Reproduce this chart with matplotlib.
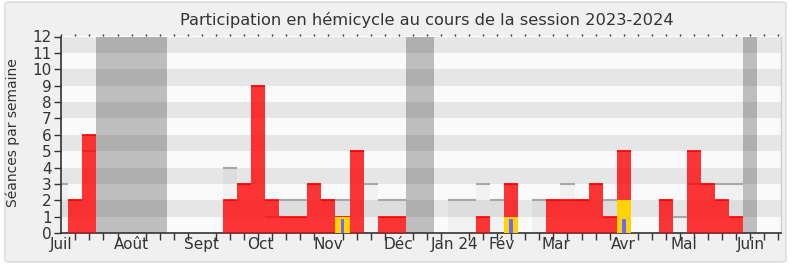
import matplotlib
matplotlib.use('Agg')
import matplotlib.pyplot as plt
from matplotlib.patches import FancyBboxPatch
import numpy as np

plt.rcParams['font.family'] = ['DejaVu Sans']

# ---- data (one value per week, week 0 = first week of July 2023) ----
weeks = np.arange(52)
presences = [0, 2, 6, 0, 0, 0, 0, 0, 0, 0, 0, 0, 2, 3, 9, 2, 1, 1, 3, 2,
             1, 5, 0, 1, 1, 0, 0, 0, 0, 0, 1, 0, 3, 0, 0, 2, 2, 2, 3, 1,
             5, 0, 0, 2, 0, 5, 3, 2, 1, 0, 0, 0]
seances = [3, 2, 5, 0, 0, 0, 0, 0, 0, 0, 0, 0, 4, 3, 9, 1, 2, 2, 3, 2,
           2, 5, 3, 2, 2, 0, 0, 0, 2, 2, 3, 2, 3, 0, 2, 2, 3, 2, 3, 2,
           5, 0, 0, 2, 1, 3, 3, 3, 3, 0, 0, 0]
interventions = [0] * 52
interventions[20] = 1
interventions[32] = 1
interventions[40] = 2
questions = [0] * 52
questions[20] = 0.85
questions[32] = 0.85
questions[40] = 0.85
vacances = [(3, 7), (25, 26), (49, 49)]
mois = ['Juil', 'Août', 'Sept', 'Oct', 'Nov', 'Déc', 'Jan 24', 'Fév',
        'Mar', 'Avr', 'Mai', 'Juin']
mois_pos = [0, 5, 10, 14.15, 19, 24, 28, 31.3, 35.2, 40, 44.3, 49.05]

W, H = 790, 267
fig = plt.figure(figsize=(W / 100, H / 100), dpi=100)
fig.patch.set_facecolor('white')
box = FancyBboxPatch((5 / W, 5 / H), (786 - 5) / W, (265 - 5) / H,
                     boxstyle='round,pad=0,rounding_size=0.008',
                     transform=fig.transFigure, facecolor='#f0f0f0',
                     edgecolor='#dedede', linewidth=1.2, zorder=-10)
fig.patches.append(box)

ax = fig.add_axes([61.3 / W, 34 / H, (780.5 - 61.3) / W, (233 - 36.5) / H])
ax.set_zorder(1)
ax.set_facecolor('#fafafa')
ax.set_xlim(0, 51.15)
ax.set_ylim(0, 12)

for k in range(12):
    ax.axhspan(k, k + 1, color='#e6e6e6' if k % 2 == 1 else '#fafafa',
               lw=0, zorder=0.5)
for s, e in vacances:
    ax.axvspan(s - 0.5, e + 0.5, color='black', alpha=0.24, lw=0, zorder=1.5)

seances_a = np.array(seances, dtype=float)
pres_a = np.array(presences, dtype=float)
ax.bar(weeks, seances_a, width=1, color='black', alpha=0.035, lw=0, zorder=2)
m = seances_a > 0
ax.hlines(seances_a[m], weeks[m] - 0.5, weeks[m] + 0.5, color='#a8a8a8',
          lw=1.5, zorder=2.1)
ax.bar(weeks, pres_a, width=1, color=(1, 0.0, 0.0, 0.78), lw=0, zorder=3)
m = pres_a > 0
ax.hlines(pres_a[m], weeks[m] - 0.5, weeks[m] + 0.5, color='#ff0000',
          lw=1.2, zorder=3.1)
ax.bar(weeks, interventions, width=1, color='#ffd200', lw=0, zorder=4)
ax.bar(weeks, questions, width=0.28, color='#6a6aff', lw=0, zorder=5)

for sp in ['left', 'bottom']:
    ax.spines[sp].set_color('#333333')
    ax.spines[sp].set_linewidth(1.2)
ax.spines['top'].set_visible(False)
ax.spines['right'].set_color('#cfcfcf')
ax.spines['right'].set_linewidth(1)

ax.set_yticks(range(13))
ax.set_yticklabels([str(i) for i in range(13)])
ax.tick_params(axis='y', length=5, width=1, color='#333333', labelsize=11,
               labelcolor='#333333', pad=2)
ax.set_xticks(mois_pos)
ax.set_xticklabels(mois)
ax.set_xticks(weeks, minor=True)
ax.tick_params(axis='x', which='major', length=0, labelsize=11,
               labelcolor='#333333', pad=3)
ax.tick_params(axis='x', which='minor', length=5, width=1, color='#333333')

secax = ax.secondary_xaxis('top')
secax.set_xticks(weeks)
secax.set_xticklabels([])
secax.tick_params(length=1.5, width=1, color='#333333')
secax.spines['top'].set_visible(False)

fig.text(427 / W, 1 - 20 / H,
         'Participation en hémicycle au cours de la session 2023-2024',
         ha='center', va='center', fontsize=11.7, color='#333333')
fig.text(12.5 / W, 0.504, 'Séances par semaine', rotation=90,
         ha='center', va='center', fontsize=10, color='#333333')

fig.savefig('out.png', dpi=100)
